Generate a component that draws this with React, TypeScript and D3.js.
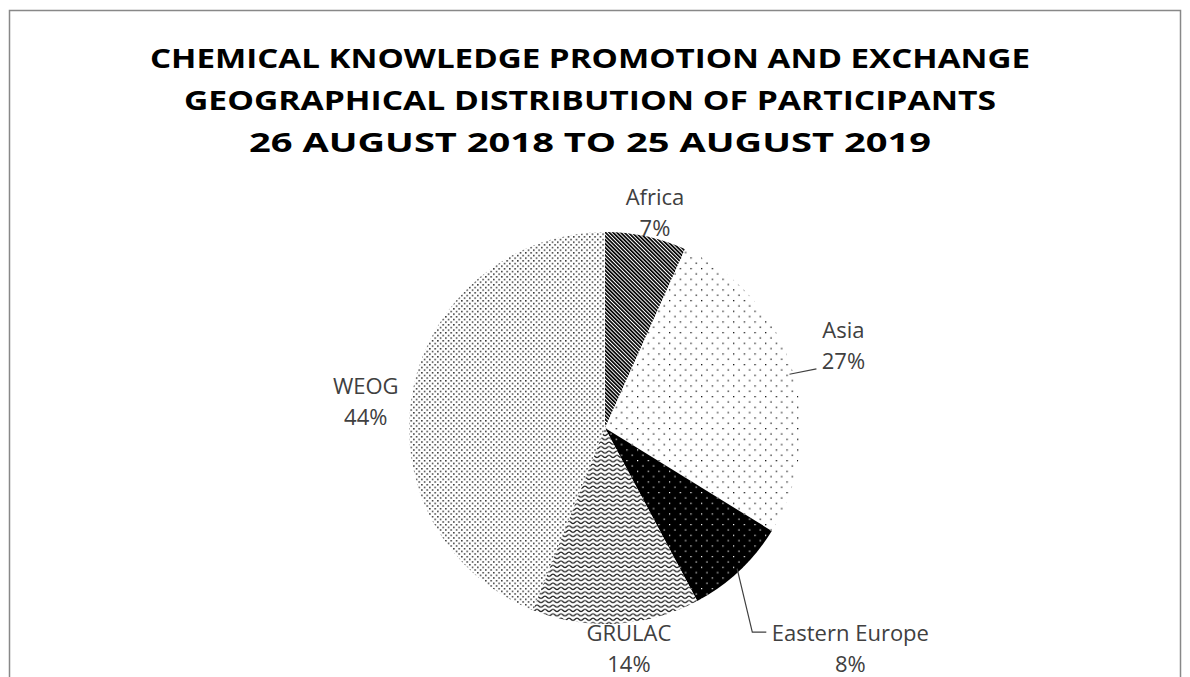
import React from "react";
import * as d3 from "d3";

const categories = ["Africa", "Asia", "Eastern Europe", "GRULAC", "WEOG"];
const values = [6.7, 27.1, 8.4, 13.8, 44.0];
const pctLabels = ["7%", "27%", "8%", "14%", "44%"];
const titleLines = [
  "CHEMICAL KNOWLEDGE PROMOTION AND EXCHANGE",
  "GEOGRAPHICAL DISTRIBUTION OF PARTICIPANTS",
  "26 AUGUST 2018 TO 25 AUGUST 2019",
];
const titleWidths = [880, 812, 682];
const patternIds = ["pAfrica", "pAsia", "pEE", "pGrulac", "pWeog"];
// label placement: radius from centre and angle (degrees, clockwise from top)
const labelPolar = [
  { r: 214, a: 13.5 },
  { r: 250, a: 72.5 },
  { r: 335, a: 132.9 },
  { r: 229, a: 174 },
  { r: 240, a: 274.5 },
];
const leaders = [false, true, true, false, false];

const W = 1190;
const H = 677;
const cx = 605;
const cy = 428;
const R = 196;

export default function App() {
  const pie = d3.pie<number>().sort(null).value((d) => d)(values);
  const arc = d3.arc<d3.PieArcDatum<number>>().innerRadius(0).outerRadius(R);
  const font = "'Open Sans', sans-serif";
  const polar = (r: number, deg: number) => {
    const a = (deg * Math.PI) / 180;
    return [cx + r * Math.sin(a), cy - r * Math.cos(a)];
  };
  return (
    <svg width={W} height={H} style={{ position: "absolute", left: 0, top: 0, background: "#fff" }}>
      <defs>
        <pattern id="pAfrica" patternUnits="userSpaceOnUse" width={2.7} height={2.7} patternTransform="rotate(-45)">
          <rect width={2.7} height={2.7} fill="#fff" />
          <rect width={1.7} height={2.7} fill="#000" />
        </pattern>
        <pattern id="pAsia" patternUnits="userSpaceOnUse" width={10.67} height={10.67}>
          <rect width={10.67} height={10.67} fill="#fff" />
          <rect x={0} y={0} width={1.3} height={1.3} fill="#111" />
          <rect x={5.33} y={5.33} width={1.3} height={1.3} fill="#111" />
        </pattern>
        <pattern id="pEE" patternUnits="userSpaceOnUse" width={10.67} height={10.67}>
          <rect width={10.67} height={10.67} fill="#000" />
          <rect x={0} y={0} width={1.2} height={1.2} fill="#fff" />
          <rect x={5.33} y={5.33} width={1.2} height={1.2} fill="#fff" />
        </pattern>
        <pattern id="pGrulac" patternUnits="userSpaceOnUse" width={8} height={4.4}>
          <rect width={8} height={4.4} fill="#fff" />
          <path d="M0,3.2 C1.5,3.2 2.5,1 4,1 C5.5,1 6.5,3.2 8,3.2" fill="none" stroke="#222" strokeWidth={1.2} />
        </pattern>
        <pattern id="pWeog" patternUnits="userSpaceOnUse" width={5.33} height={5.33}>
          <rect width={5.33} height={5.33} fill="#fff" />
          <rect x={0} y={0} width={1.5} height={1.5} fill="#333" />
          <rect x={2.67} y={2.67} width={1.5} height={1.5} fill="#333" />
        </pattern>
      </defs>
      <rect x={9.5} y={10.5} width={1171} height={700} fill="#fff" stroke="#888" strokeWidth={1.5} />
      {titleLines.map((t, i) => (
        <text
          key={t}
          x={590}
          y={68 + i * 42}
          textAnchor="middle"
          fontFamily={font}
          fontWeight={700}
          fontSize={27}
          fill="#000"
          textLength={titleWidths[i]}
          lengthAdjust="spacingAndGlyphs"
        >
          {t}
        </text>
      ))}
      <g>
        {pie.map((p, i) => (
          <path key={categories[i]} d={arc(p) || ""} transform={`translate(${cx},${cy})`} fill={`url(#${patternIds[i]})`} />
        ))}
      </g>
      {pie.map((p, i) => {
        const lp = labelPolar[i];
        const [lx, ly] = polar(lp.r, lp.a);
        const mid = (((p.startAngle + p.endAngle) / 2) * 180) / Math.PI;
        let leader: React.ReactNode = null;
        const nameW = categories[i].length * 11.3;
        if (leaders[i]) {
          const [sx, sy] = polar(R - 3, mid);
          if (i === 1) {
            const ex = lx - 27;
            leader = <path d={`M${sx},${sy + 3}L${ex},${ly + 16}`} stroke="#404040" strokeWidth={1.2} fill="none" />;
          } else {
            const ex = lx - nameW / 2 - 5;
            const ey = ly - 24;
            leader = (
              <path d={`M${sx},${sy}L${ex - 14},${ey}L${ex},${ey}`} stroke="#404040" strokeWidth={1.2} fill="none" />
            );
          }
        }
        return (
          <g key={`l${i}`}>
            {leader}
            <text x={lx} y={ly - 15} textAnchor="middle" fontFamily={font} fontSize={22} fill="#404040">
              {categories[i]}
            </text>
            <text x={lx} y={ly + 16} textAnchor="middle" fontFamily={font} fontSize={22} fill="#404040">
              {pctLabels[i]}
            </text>
          </g>
        );
      })}
    </svg>
  );
}
